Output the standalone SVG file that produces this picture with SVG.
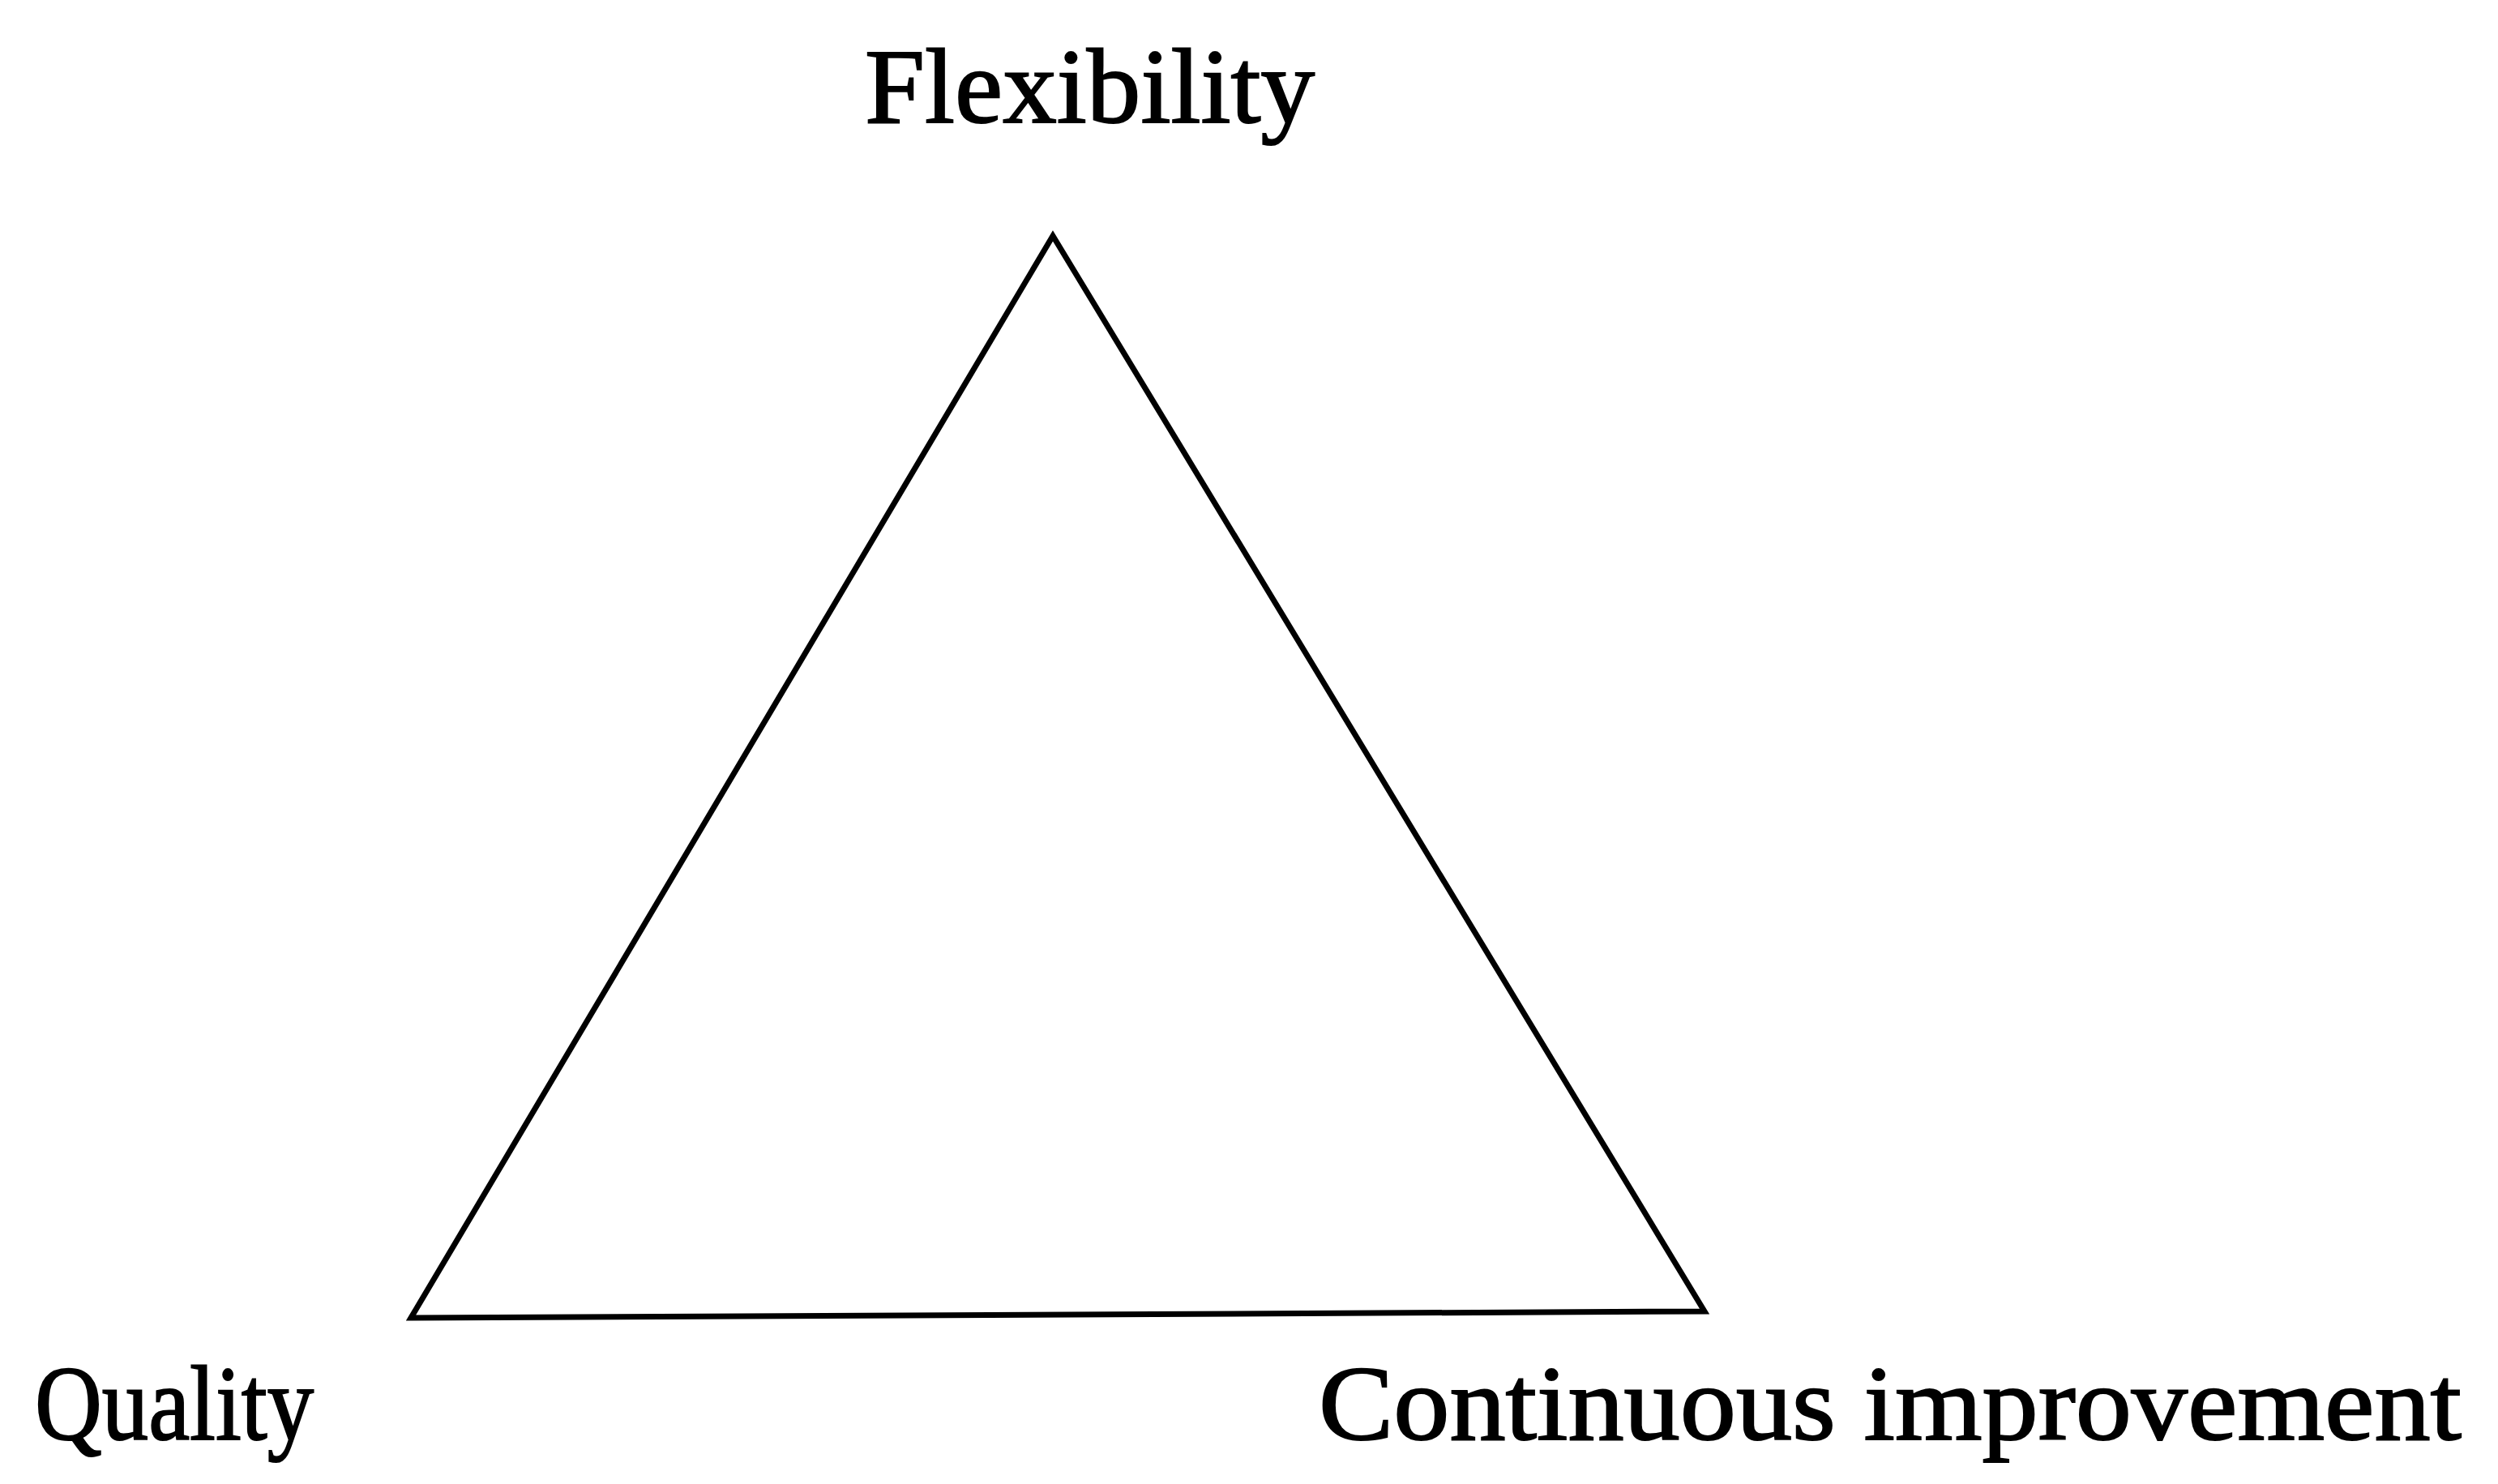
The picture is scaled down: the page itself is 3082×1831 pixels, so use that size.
<svg xmlns="http://www.w3.org/2000/svg" width="3082" height="1831" viewBox="0 0 3082 1831">
<style>
.lbl{font-family:"Liberation Serif","Times New Roman",serif;font-size:132px;fill:#000;stroke:#000;stroke-width:2}
.edge{stroke:#000;stroke-width:7;fill:none;stroke-linejoin:miter}
</style>
<rect width="3082" height="1831" fill="#fff"/>
<g id="connectors">
<path class="edge" d="M1299,291 L507,1626 L2103,1618 Z"/>
</g>
<g id="node-flexibility"><text class="lbl" x="1067" y="151" textLength="555" lengthAdjust="spacingAndGlyphs">Flexibility</text></g>
<g id="node-quality"><text class="lbl" x="43" y="1776" textLength="344" lengthAdjust="spacingAndGlyphs">Quality</text></g>
<g id="node-continuous"><text class="lbl" x="1627" y="1776" textLength="1410" lengthAdjust="spacingAndGlyphs">Continuous improvement</text></g>
</svg>
